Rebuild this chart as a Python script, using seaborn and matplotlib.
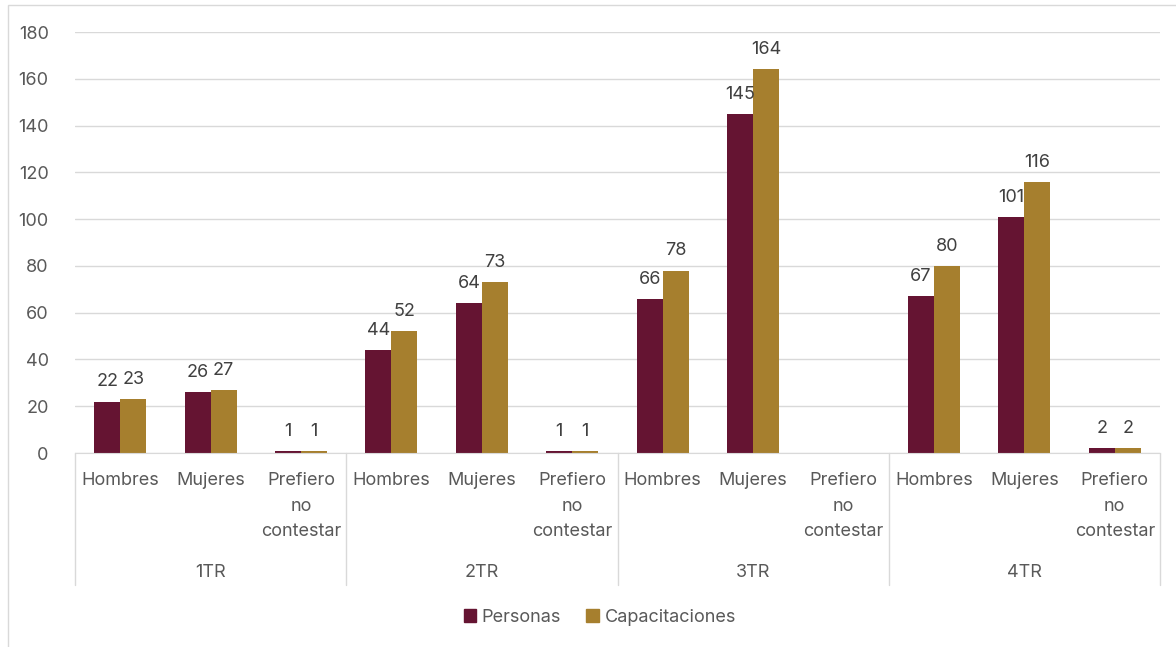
import numpy as np
import pandas as pd
import seaborn as sns
import matplotlib.pyplot as plt
import matplotlib.transforms as mtransforms
from matplotlib.patches import Rectangle

# Datos
trimestres = ['1TR', '2TR', '3TR', '4TR']
grupos = ['Hombres', 'Mujeres', 'Prefiero\nno\ncontestar']
series = ['Personas', 'Capacitaciones']
personas = [22, 26, 1, 44, 64, 1, 66, 145, np.nan, 67, 101, 2]
capacitaciones = [23, 27, 1, 52, 73, 1, 78, 164, np.nan, 80, 116, 2]
colores = ['#651432', '#A67F2E']

claves = [f'{t}-{g}' for t in trimestres for g in grupos]
df = pd.DataFrame({
    'clave': claves * 2,
    'serie': ['Personas'] * len(claves) + ['Capacitaciones'] * len(claves),
    'valor': personas + capacitaciones,
}).dropna()

sns.set_style('white')
plt.rcParams['font.family'] = ['Inter', 'DejaVu Sans']
gris = '#595959'
fs = 13

fig = plt.figure(figsize=(11.76, 6.47), dpi=100)
ax = fig.add_axes([0.0638, 0.2998, 0.9226, 0.6507])

sns.barplot(data=df, x='clave', y='valor', hue='serie', order=claves,
            hue_order=series, palette=colores, width=0.575, saturation=1,
            errorbar=None, legend=False, linewidth=0, ax=ax)

for c in ax.containers:
    ax.bar_label(c, fmt='%.0f', padding=8, fontsize=fs, color='#404040')

ax.set_ylim(0, 180)
ax.set_xlim(-0.5, len(claves) - 0.5)
ax.set_yticks(range(0, 181, 20))
ax.set_xticks(range(len(claves)))
ax.set_xticklabels([g for t in trimestres for g in grupos], linespacing=1.62)
ax.tick_params(axis='x', length=0, pad=14, labelsize=fs, labelcolor=gris)
ax.tick_params(axis='y', length=0, pad=19, labelsize=fs, labelcolor=gris)
ax.set_xlabel('')
ax.set_ylabel('')
ax.yaxis.grid(True, color='#d9d9d9', lw=1)
ax.set_axisbelow(True)
for s in ['left', 'right', 'top']:
    ax.spines[s].set_visible(False)
ax.spines['bottom'].set_color('#d9d9d9')

# separadores y etiquetas de trimestre
trans = mtransforms.blended_transform_factory(ax.transData, ax.transAxes)
n = len(grupos)
for i in range(len(trimestres) + 1):
    ax.plot([i * n - 0.5] * 2, [0, -0.3135], transform=trans, color='#d9d9d9',
            lw=1, clip_on=False)
for i, t in enumerate(trimestres):
    ax.text(i * n + (n - 1) / 2, -0.284, t, transform=trans, ha='center',
            va='center', fontsize=fs, color=gris)

handles = [Rectangle((0, 0), 1, 1, color=c) for c in colores]
fig.legend(handles, series, loc='center', bbox_to_anchor=(0.51, 0.046), ncol=2,
           frameon=False, fontsize=fs, labelcolor=gris, handlelength=0.7,
           handleheight=0.7, handletextpad=0.3, columnspacing=1.4)

fig.patches.append(Rectangle((8 / 1176, -0.1), 1.2, 0.9923 + 0.1,
                             transform=fig.transFigure, fill=False,
                             edgecolor='#d9d9d9', lw=1))

fig.savefig('out.png', dpi=100)
